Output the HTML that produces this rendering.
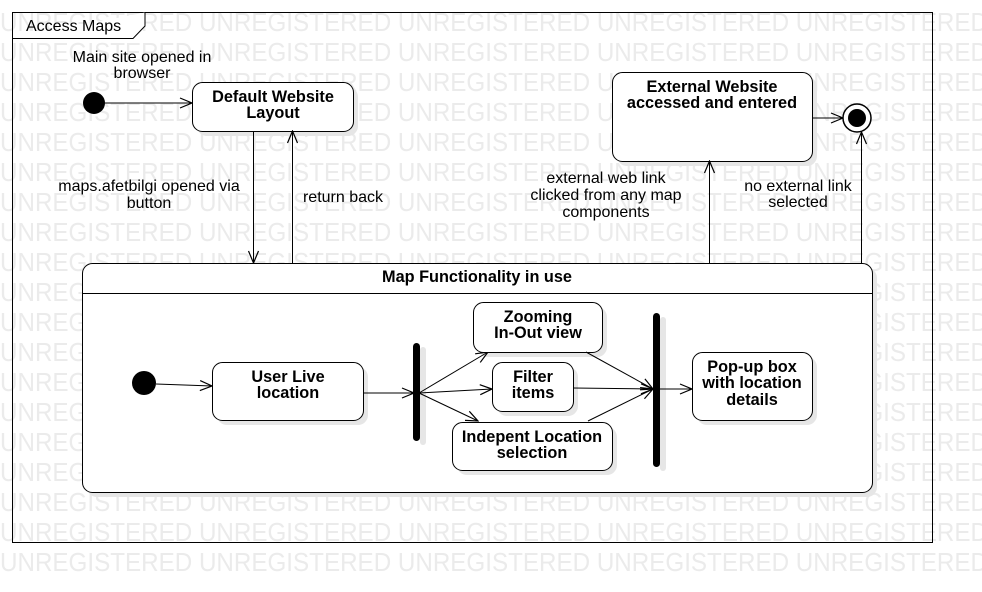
<!DOCTYPE html>
<html><head><meta charset="utf-8"><style>
html,body{margin:0;padding:0;background:#fff;width:982px;height:592px;overflow:hidden}
svg{display:block;font-family:"Liberation Sans",Arial,sans-serif}
.wm{fill:#ebebeb;font-size:26px}
.t{font-size:16px;fill:#000;text-anchor:middle}
.b{font-weight:bold;font-size:16.3px}
</style></head><body>
<svg width="982" height="592" viewBox="0 0 982 592" xmlns="http://www.w3.org/2000/svg">
<defs><marker id="a" markerWidth="14" markerHeight="12" refX="13" refY="6" orient="auto" markerUnits="userSpaceOnUse"><path d="M1,1 L13,6 L1,11" fill="none" stroke="#000" stroke-width="1.2"/></marker></defs>
<g class="wm">
<text x="0" y="31" textLength="988" lengthAdjust="spacingAndGlyphs">UNREGISTERED UNREGISTERED UNREGISTERED UNREGISTERED UNREGISTERED</text>
<text x="0" y="61" textLength="988" lengthAdjust="spacingAndGlyphs">UNREGISTERED UNREGISTERED UNREGISTERED UNREGISTERED UNREGISTERED</text>
<text x="0" y="91" textLength="988" lengthAdjust="spacingAndGlyphs">UNREGISTERED UNREGISTERED UNREGISTERED UNREGISTERED UNREGISTERED</text>
<text x="0" y="121" textLength="988" lengthAdjust="spacingAndGlyphs">UNREGISTERED UNREGISTERED UNREGISTERED UNREGISTERED UNREGISTERED</text>
<text x="0" y="151" textLength="988" lengthAdjust="spacingAndGlyphs">UNREGISTERED UNREGISTERED UNREGISTERED UNREGISTERED UNREGISTERED</text>
<text x="0" y="181" textLength="988" lengthAdjust="spacingAndGlyphs">UNREGISTERED UNREGISTERED UNREGISTERED UNREGISTERED UNREGISTERED</text>
<text x="0" y="211" textLength="988" lengthAdjust="spacingAndGlyphs">UNREGISTERED UNREGISTERED UNREGISTERED UNREGISTERED UNREGISTERED</text>
<text x="0" y="241" textLength="988" lengthAdjust="spacingAndGlyphs">UNREGISTERED UNREGISTERED UNREGISTERED UNREGISTERED UNREGISTERED</text>
<text x="0" y="271" textLength="988" lengthAdjust="spacingAndGlyphs">UNREGISTERED UNREGISTERED UNREGISTERED UNREGISTERED UNREGISTERED</text>
<text x="0" y="301" textLength="988" lengthAdjust="spacingAndGlyphs">UNREGISTERED UNREGISTERED UNREGISTERED UNREGISTERED UNREGISTERED</text>
<text x="0" y="331" textLength="988" lengthAdjust="spacingAndGlyphs">UNREGISTERED UNREGISTERED UNREGISTERED UNREGISTERED UNREGISTERED</text>
<text x="0" y="361" textLength="988" lengthAdjust="spacingAndGlyphs">UNREGISTERED UNREGISTERED UNREGISTERED UNREGISTERED UNREGISTERED</text>
<text x="0" y="391" textLength="988" lengthAdjust="spacingAndGlyphs">UNREGISTERED UNREGISTERED UNREGISTERED UNREGISTERED UNREGISTERED</text>
<text x="0" y="421" textLength="988" lengthAdjust="spacingAndGlyphs">UNREGISTERED UNREGISTERED UNREGISTERED UNREGISTERED UNREGISTERED</text>
<text x="0" y="451" textLength="988" lengthAdjust="spacingAndGlyphs">UNREGISTERED UNREGISTERED UNREGISTERED UNREGISTERED UNREGISTERED</text>
<text x="0" y="481" textLength="988" lengthAdjust="spacingAndGlyphs">UNREGISTERED UNREGISTERED UNREGISTERED UNREGISTERED UNREGISTERED</text>
<text x="0" y="511" textLength="988" lengthAdjust="spacingAndGlyphs">UNREGISTERED UNREGISTERED UNREGISTERED UNREGISTERED UNREGISTERED</text>
<text x="0" y="541" textLength="988" lengthAdjust="spacingAndGlyphs">UNREGISTERED UNREGISTERED UNREGISTERED UNREGISTERED UNREGISTERED</text>
<text x="0" y="571" textLength="988" lengthAdjust="spacingAndGlyphs">UNREGISTERED UNREGISTERED UNREGISTERED UNREGISTERED UNREGISTERED</text>
</g>
<rect x="12.5" y="12.5" width="920" height="530" fill="none" stroke="#000"/>
<path d="M12.5,38.5 H133 L145,26 V12.5" fill="#fff" stroke="#000"/>
<text x="26" y="31" style="font-size:16px">Access Maps</text>

<g fill="#e6e6e6">
<rect x="197" y="87" width="161" height="49" rx="10"/>
<rect x="617" y="77" width="200" height="89" rx="10"/>
<rect x="87" y="268" width="790" height="229" rx="10"/>
</g>
<circle cx="94" cy="103" r="11"/>
<line x1="105" y1="103" x2="192" y2="103" stroke="#000" marker-end="url(#a)"/>
<rect x="192.5" y="82.5" width="161" height="49" rx="10" fill="#fff" stroke="#000"/>
<text class="t b" x="273" y="102">Default Website</text>
<text class="t b" x="273" y="118">Layout</text>
<text class="t" x="142" y="62">Main site opened in</text>
<text class="t" x="142" y="78">browser</text>
<line x1="253.5" y1="131" x2="253.5" y2="263" stroke="#000" marker-end="url(#a)"/>
<line x1="292.5" y1="263" x2="292.5" y2="131" stroke="#000" marker-end="url(#a)"/>
<text class="t" x="149" y="191">maps.afetbilgi opened via</text>
<text class="t" x="149" y="208">button</text>
<text class="t" x="343" y="202">return back</text>

<rect x="612.5" y="72.5" width="200" height="89" rx="10" fill="#fff" stroke="#000"/>
<text class="t b" x="712" y="92">External Website</text>
<text class="t b" x="712" y="108">accessed and entered</text>
<line x1="709.5" y1="263" x2="709.5" y2="161" stroke="#000" marker-end="url(#a)"/>
<text class="t" x="606" y="183">external web link</text>
<text class="t" x="606" y="200">clicked from any map</text>
<text class="t" x="606" y="217">components</text>
<line x1="812" y1="118" x2="843" y2="118" stroke="#000" marker-end="url(#a)"/>
<circle cx="857" cy="118" r="14" fill="#fff" stroke="#000" stroke-width="1.5"/>
<circle cx="857" cy="118" r="9"/>
<line x1="861.5" y1="263" x2="861.5" y2="132" stroke="#000" marker-end="url(#a)"/>
<text class="t" x="798" y="191">no external link</text>
<text class="t" x="798" y="207">selected</text>

<rect x="82.5" y="263.5" width="790" height="229" rx="10" fill="#fff" stroke="#000"/>
<line x1="82.5" y1="293.5" x2="872.5" y2="293.5" stroke="#000"/>
<text class="t b" x="477" y="282">Map Functionality in use</text>

<g fill="#e6e6e6">
<rect x="217" y="367" width="151" height="58" rx="10"/>
<rect x="478" y="307" width="129" height="50" rx="10"/>
<rect x="497" y="367" width="81" height="49" rx="10"/>
<rect x="457" y="427" width="160" height="48" rx="10"/>
<rect x="697" y="357" width="120" height="68" rx="10"/>
<rect x="420" y="347" width="6" height="98" rx="3"/>
<rect x="660" y="317" width="6" height="154" rx="3"/>
</g>
<circle cx="144" cy="383" r="12"/>
<line x1="156" y1="384" x2="212" y2="386" stroke="#000" marker-end="url(#a)"/>
<rect x="212.5" y="362.5" width="151" height="58" rx="10" fill="#fff" stroke="#000"/>
<text class="t b" x="288" y="382">User Live</text>
<text class="t b" x="288" y="398">location</text>
<line x1="363" y1="393" x2="414" y2="393" stroke="#000" marker-end="url(#a)"/>
<rect x="413" y="343" width="7" height="98" rx="3.5"/>
<line x1="419" y1="393" x2="488" y2="352" stroke="#000" marker-end="url(#a)"/>
<line x1="419" y1="393" x2="492" y2="389" stroke="#000" marker-end="url(#a)"/>
<line x1="419" y1="393" x2="478" y2="421" stroke="#000" marker-end="url(#a)"/>
<rect x="473.5" y="302.5" width="129" height="50" rx="10" fill="#fff" stroke="#000"/>
<text class="t b" x="538" y="322">Zooming</text>
<text class="t b" x="538" y="338">In-Out view</text>
<rect x="492.5" y="362.5" width="81" height="49" rx="10" fill="#fff" stroke="#000"/>
<text class="t b" x="533" y="382">Filter</text>
<text class="t b" x="533" y="398">items</text>
<rect x="452.5" y="422.5" width="160" height="48" rx="10" fill="#fff" stroke="#000"/>
<text class="t b" x="532" y="442">Indepent Location</text>
<text class="t b" x="532" y="458">selection</text>
<rect x="653" y="313" width="7" height="154" rx="3.5"/>
<line x1="586" y1="352" x2="653" y2="389" stroke="#000" marker-end="url(#a)"/>
<line x1="573" y1="388" x2="653" y2="389" stroke="#000" marker-end="url(#a)"/>
<line x1="588" y1="421" x2="653" y2="389" stroke="#000" marker-end="url(#a)"/>
<line x1="660" y1="389" x2="692" y2="389" stroke="#000" marker-end="url(#a)"/>
<rect x="692.5" y="352.5" width="120" height="68" rx="10" fill="#fff" stroke="#000"/>
<text class="t b" x="752" y="372">Pop-up box</text>
<text class="t b" x="752" y="388">with location</text>
<text class="t b" x="752" y="405">details</text>
</svg>
</body></html>
